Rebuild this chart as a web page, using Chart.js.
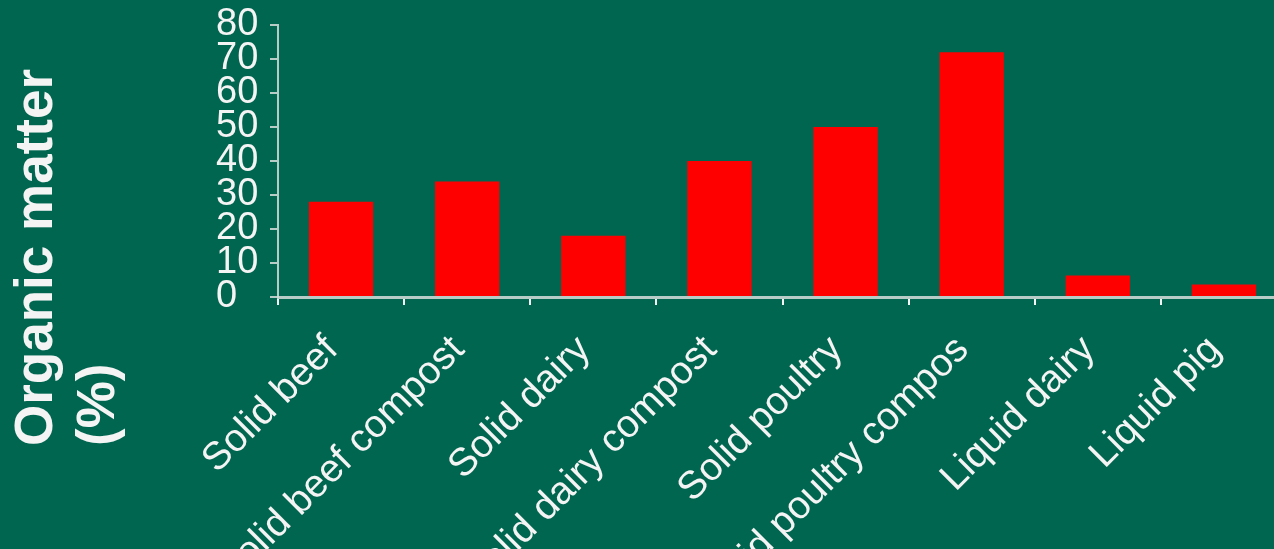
<!DOCTYPE html>
<html lang="en">
<head>
    <meta charset="UTF-8">
    <title>Organic matter</title>
    <script src="https://cdn.jsdelivr.net/npm/chart.js"></script>
    <style>
        html, body {
            margin: 0;
            padding: 0;
            overflow: hidden;
            background-color: #006650;
        }
        .chartBox {
            width: 1300px;
            height: 549px;
            position: relative;
        }
    </style>
</head>
<body>
    <div class="chartBox">
        <canvas id="organicChart"></canvas>
    </div>

    <script>
    // data
    const categories = ['Solid beef', 'Solid beef compost', 'Solid dairy', 'Solid dairy compost',
                        'Solid poultry', 'Solid poultry compos', 'Liquid dairy', 'Liquid pig'];
    const organicMatter = [28, 34, 18, 40, 50, 72, 6.3, 3.7];
    const yTicks = [0, 10, 20, 30, 40, 50, 60, 70, 80];
    const yTitle = ['Organic matter', '(%)'];

    const textColor = '#f4f4f4';
    const axisColor = 'rgba(215, 222, 218, 0.85)';

    // y title is drawn by hand, it sits lower than the chart area
    const yTitlePlugin = {
        id: 'yTitlePlugin',
        afterDraw(chart) {
            const c = chart.ctx;
            c.save();
            c.fillStyle = textColor;
            c.font = 'bold 53px "Liberation Sans", Arial, sans-serif';
            c.textAlign = 'left';
            c.textBaseline = 'alphabetic';
            c.translate(0, 446);
            c.rotate(-Math.PI / 2);
            c.fillText(yTitle[0], 0, 52);
            c.fillText(yTitle[1], 0, 114);
            c.restore();
        }
    };

    const ctx = document.getElementById('organicChart');

    new Chart(ctx, {
        type: 'bar',
        data: {
            labels: categories,
            datasets: [{
                label: 'Organic matter (%)',
                data: organicMatter,
                backgroundColor: '#ff0000',
                borderWidth: 0,
                barPercentage: 0.51,
                categoryPercentage: 1.0
            }]
        },
        options: {
            responsive: true,
            maintainAspectRatio: false,
            animation: false,
            layout: {
                padding: { top: 25, right: 13, bottom: 0, left: 216 }
            },
            plugins: {
                legend: { display: false },
                tooltip: { enabled: false }
            },
            scales: {
                x: {
                    grid: {
                        offset: true,
                        drawOnChartArea: false,
                        drawTicks: true,
                        tickLength: 8,
                        color: textColor,
                        lineWidth: 2
                    },
                    border: { color: axisColor, width: 3 },
                    ticks: {
                        color: textColor,
                        font: { family: '"Liberation Sans", Arial, sans-serif', size: 39 },
                        minRotation: 45,
                        maxRotation: 45,
                        autoSkip: false,
                        padding: 22,
                        labelOffset: -9
                    },
                    afterFit(scale) {
                        scale.height = 549 - 297;
                        scale.paddingLeft = 0;
                        scale.paddingRight = 0;
                    }
                },
                y: {
                    min: 0,
                    max: 80,
                    afterBuildTicks(scale) {
                        scale.ticks = yTicks.map(v => ({ value: v }));
                    },
                    grid: {
                        drawOnChartArea: false,
                        drawTicks: true,
                        tickLength: 8,
                        color: axisColor,
                        lineWidth: 2
                    },
                    border: { color: axisColor, width: 2 },
                    ticks: {
                        color: textColor,
                        font: { family: '"Liberation Sans", Arial, sans-serif', size: 38 },
                        autoSkip: false,
                        crossAlign: 'far'
                    },
                    afterFit(scale) {
                        scale.width = 278 - 216;
                        scale.paddingTop = 0;
                        scale.paddingBottom = 0;
                    }
                }
            }
        },
        plugins: [yTitlePlugin]
    });
    </script>
</body>
</html>
